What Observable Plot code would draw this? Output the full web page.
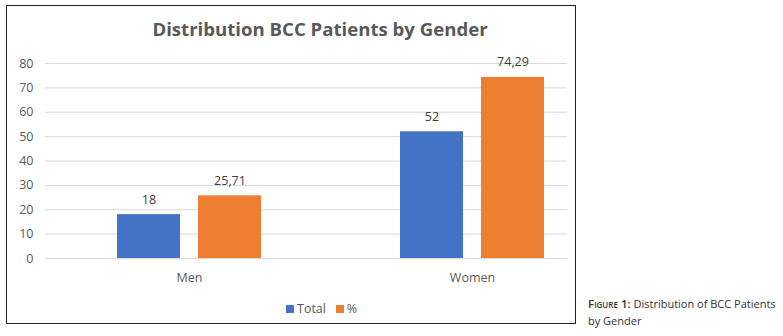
<!DOCTYPE html>
<html>
<head>
<meta charset="utf-8">
<script src="https://cdn.jsdelivr.net/npm/d3@7"></script>
<script src="https://cdn.jsdelivr.net/npm/@observablehq/plot@0.6"></script>
<style>
  html, body { margin: 0; padding: 0; background: #fff; }
  #wrap { position: relative; width: 783px; height: 336px; overflow: hidden; font-family: "Open Sans", sans-serif; }
  #box { position: absolute; left: 6px; top: 5px; width: 568px; height: 317px; border: 1.5px solid #222; box-sizing: content-box; }
  #title { position: absolute; left: 120px; width: 400px; top: 16px; text-align: center; font-weight: 700; font-size: 18.6px; color: #595959; white-space: nowrap; }
  #legend { position: absolute; left: 286px; top: 300px; font-size: 12.5px; color: #595959; white-space: nowrap; }
  #legend span.sw { display: inline-block; width: 8px; height: 8px; margin-right: 3px; vertical-align: 0px; }
  #caption { position: absolute; left: 588px; top: 295px; font-size: 11px; line-height: 17px; color: #333; font-family: "Open Sans", sans-serif; }
  #caption b { font-variant: small-caps; font-weight: 600; font-size: 11.5px; }
  svg { position: absolute; left: 0; top: 0; }
</style>
</head>
<body>
<div id="wrap">
  <div id="box"></div>
  <div id="chart"></div>
  <div id="title">Distribution BCC Patients by Gender</div>
  <div id="legend"><span class="sw" style="background:#4472C4"></span>Total&nbsp;&nbsp;&nbsp;<span class="sw" style="background:#ED7D31"></span>%</div>
  <div id="caption"><b>Figure 1:</b> Distribution of BCC Patients<br>by Gender</div>
</div>
<script>
const genders = ["Men", "Women"];
const totals = [18, 52];
const percents = [25.71, 74.29];
const yTicks = [0, 10, 20, 30, 40, 50, 60, 70, 80];
const totalColor = "#4472C4";
const pctColor = "#ED7D31";

const data = genders.map((g, i) => ({gender: g, total: totals[i], pct: percents[i]}));
const fmt = v => String(v).replace(".", ",");

const chart = Plot.plot({
  width: 783,
  height: 336,
  marginLeft: 45,
  marginRight: 216,
  marginTop: 63,
  marginBottom: 78,
  style: {fontFamily: "Open Sans, sans-serif", fontSize: "12.5px", color: "#595959", background: "transparent"},
  x: {domain: genders, paddingInner: 0.4894, paddingOuter: 0.164, align: 0.763, label: null, tickSize: 0, tickPadding: 15},
  y: {domain: [0, 80], ticks: yTicks, label: null, tickSize: 0, tickPadding: 12, grid: false},
  marks: [
    Plot.ruleY(yTicks, {stroke: "#d9d9d9", strokeWidth: 1}),
    Plot.barY(data, {x: "gender", y: "total", fill: totalColor, insetRight: 81}),
    Plot.barY(data, {x: "gender", y: "pct", fill: pctColor, insetLeft: 81}),
    Plot.text(data, {x: "gender", y: "total", text: d => fmt(d.total), dx: -40.5, dy: -15, fill: "#404040", fontSize: 12.5}),
    Plot.text(data, {x: "gender", y: "pct", text: d => fmt(d.pct), dx: 40.5, dy: -15, fill: "#404040", fontSize: 12.5})
  ]
});
document.getElementById("chart").appendChild(chart);
</script>
</body>
</html>
